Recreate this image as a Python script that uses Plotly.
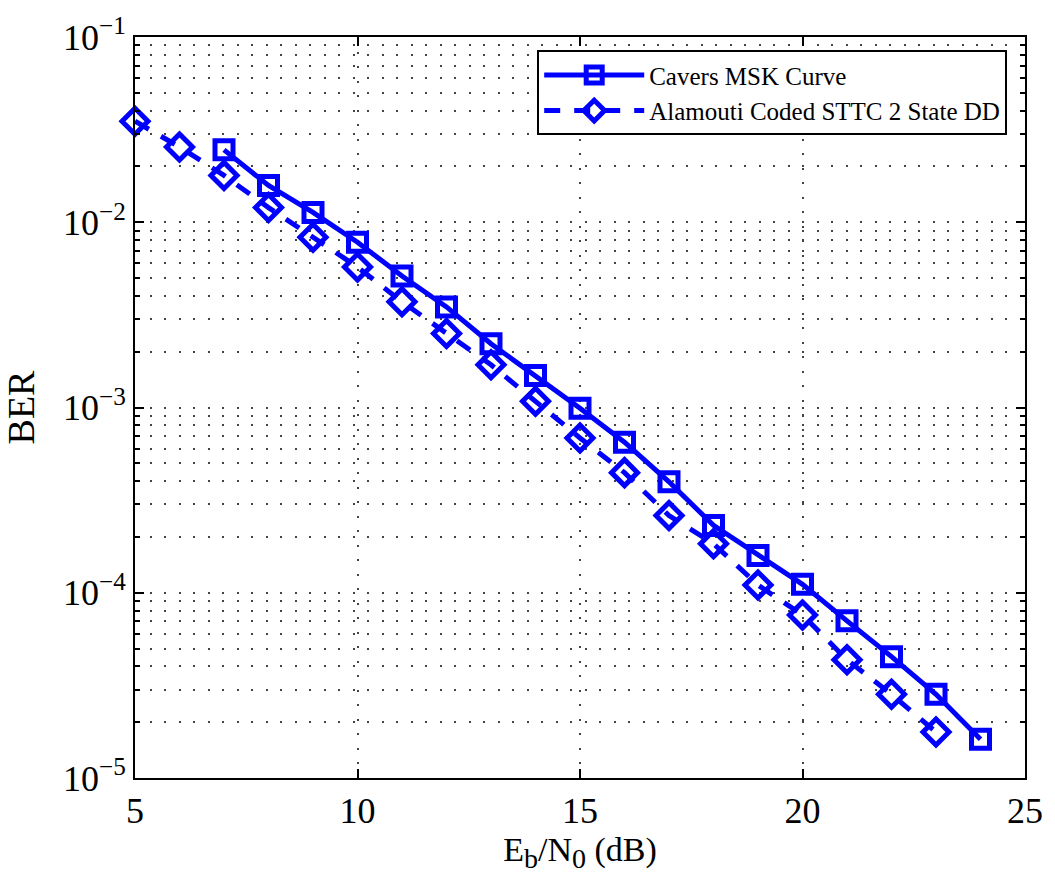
import plotly.graph_objects as go

# ---- data ----
cavers_x = [7, 8, 9, 10, 11, 12, 13, 14, 15, 16, 17, 18, 19, 20, 21, 22, 23, 24]
cavers_ber = [2.46e-2, 1.58e-2, 1.13e-2, 7.8e-3, 5.13e-3, 3.49e-3, 2.21e-3, 1.49e-3,
              9.9e-4, 6.5e-4, 3.97e-4, 2.31e-4, 1.59e-4, 1.11e-4, 7.05e-5, 4.52e-5,
              2.83e-5, 1.62e-5]

ala_x = [5, 6, 7, 8, 9, 10, 11, 12, 13, 14, 15, 16, 17, 18, 19, 20, 21, 22, 23]
ala_ber = [3.51e-2, 2.55e-2, 1.79e-2, 1.20e-2, 8.3e-3, 5.73e-3, 3.72e-3, 2.51e-3,
           1.70e-3, 1.08e-3, 6.85e-4, 4.45e-4, 2.61e-4, 1.84e-4, 1.10e-4, 7.59e-5,
           4.35e-5, 2.83e-5, 1.77e-5]

series_names = ["Cavers MSK Curve", "Alamouti Coded STTC 2 State DD"]

y_major_vals = [1e-5, 1e-4, 1e-3, 1e-2, 1e-1]
y_major_text = ["10<sup>\u22125</sup>", "10<sup>\u22124</sup>", "10<sup>\u22123</sup>",
                "10<sup>\u22122</sup>", "10<sup>\u22121</sup>"]
y_minor_vals = [m * 10.0 ** e for e in range(-5, -1) for m in range(2, 10)]
x_tick_vals = [5, 10, 15, 20, 25]

FONT = "Liberation Serif, Times New Roman, serif"
BLUE = "#0000ff"
GRID_DASH = "2px,12.5px"

x_title = ('E<sub><span style="font-size:28px">b</span></sub>/N'
           '<sub><span style="font-size:28px">0</span></sub> (dB)')

fig = go.Figure()
fig.add_trace(go.Scatter(
    x=cavers_x, y=cavers_ber, name=series_names[0], mode="lines+markers",
    line=dict(color=BLUE, width=5),
    marker=dict(symbol="square-open", size=18, color=BLUE, line=dict(width=5, color=BLUE)),
    cliponaxis=False,
))
fig.add_trace(go.Scatter(
    x=ala_x, y=ala_ber, name=series_names[1], mode="lines+markers",
    line=dict(color=BLUE, width=5, dash="16px,14px"),
    marker=dict(symbol="diamond-open", size=20, color=BLUE, line=dict(width=5, color=BLUE)),
    cliponaxis=False,
))

fig.update_layout(
    width=1055, height=884,
    margin=dict(l=135, r=25, t=34, b=106),
    paper_bgcolor="white", plot_bgcolor="white",
    font=dict(family=FONT, color="black", size=36),
    showlegend=True,
    legend=dict(
        x=0.98, y=0.982, xanchor="right", yanchor="top",
        bgcolor="white", bordercolor="black", borderwidth=2,
        font=dict(family=FONT, size=25, color="black"),
        itemwidth=100, tracegroupgap=0,
    ),
    xaxis=dict(
        range=[5, 25], tickmode="array", tickvals=x_tick_vals,
        ticks="inside", ticklen=9, tickwidth=1.5, tickcolor="black",
        showline=True, linecolor="black", linewidth=2, mirror="ticks",
        showgrid=True, gridcolor="#444", gridwidth=1.5, griddash=GRID_DASH,
        zeroline=False,
        tickfont=dict(family=FONT, size=36),
        title=dict(text=x_title, font=dict(family=FONT, size=34), standoff=2),
    ),
    yaxis=dict(
        type="log", range=[-5, -1], tickmode="array",
        tickvals=y_major_vals, ticktext=y_major_text,
        ticks="inside", ticklen=9, tickwidth=1.5, tickcolor="black",
        showline=True, linecolor="black", linewidth=2, mirror="ticks",
        showgrid=True, gridcolor="#444", gridwidth=1.5, griddash=GRID_DASH,
        zeroline=False,
        tickfont=dict(family=FONT, size=36),
        minor=dict(tickmode="array", tickvals=y_minor_vals, ticks="inside", ticklen=5,
                   tickwidth=1.5, tickcolor="black", showgrid=True,
                   gridcolor="#444", gridwidth=1.5, griddash=GRID_DASH),
        title=dict(text="BER", font=dict(family=FONT, size=38), standoff=18),
    ),
)

fig.write_html("out.html")
